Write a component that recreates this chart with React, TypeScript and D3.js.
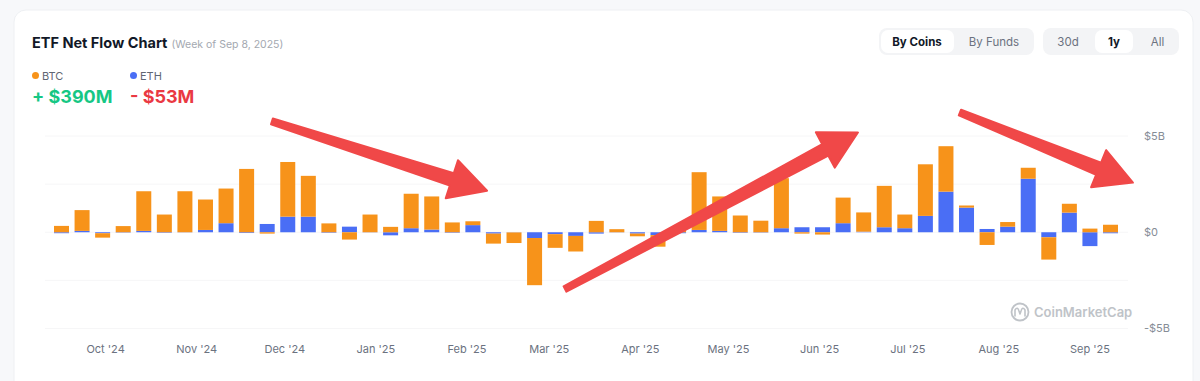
import React, { useEffect } from "react";
import * as d3 from "d3";

// ---- data (USD billions, weekly) ----
const WEEKS = [
  "2024-09-16", "2024-09-23", "2024-09-30", "2024-10-07", "2024-10-14", "2024-10-21", "2024-10-28",
  "2024-11-04", "2024-11-11", "2024-11-18", "2024-11-25", "2024-12-02", "2024-12-09", "2024-12-16",
  "2024-12-23", "2024-12-30", "2025-01-06", "2025-01-13", "2025-01-20", "2025-01-27", "2025-02-03",
  "2025-02-10", "2025-02-17", "2025-02-24", "2025-03-03", "2025-03-10", "2025-03-17", "2025-03-24",
  "2025-03-31", "2025-04-07", "2025-04-14", "2025-04-21", "2025-04-28", "2025-05-05", "2025-05-12",
  "2025-05-19", "2025-05-26", "2025-06-02", "2025-06-09", "2025-06-16", "2025-06-23", "2025-06-30",
  "2025-07-07", "2025-07-14", "2025-07-21", "2025-07-28", "2025-08-04", "2025-08-11", "2025-08-18",
  "2025-08-25", "2025-09-01", "2025-09-08",
];
const BTC_FLOW = [
  0.33, 1.08, -0.23, 0.32, 2.06, 0.92, 2.13, 1.58, 1.8, 3.29, -0.07, 2.84, 2.12,
  0.46, -0.38, 0.92, 0.28, 1.79, 1.72, 0.51, 0.2, -0.52, -0.55, -2.45, -0.71, -0.81,
  0.59, 0.16, -0.14, -0.6, 0.15, 3.0, 1.79, 0.87, 0.6, 2.6, -0.07, -0.12, 1.33,
  1.0, 2.15, 0.71, 2.68, 2.36, 0.11, -0.66, 0.24, 0.57, -1.16, 0.46, 0.19, 0.39,
];
const ETH_FLOW = [
  -0.05, 0.07, -0.05, -0.02, 0.07, -0.03, -0.01, 0.12, 0.47, -0.04, 0.43, 0.81, 0.81,
  -0.03, 0.29, -0.01, -0.16, 0.21, 0.14, -0.03, 0.37, -0.07, -0.01, -0.3, -0.1, -0.19,
  -0.07, -0.01, -0.07, -0.15, -0.05, 0.12, 0.07, -0.03, -0.02, 0.21, 0.26, 0.26, 0.47,
  0.03, 0.26, 0.21, 0.85, 2.11, 1.28, 0.17, 0.29, 2.78, -0.26, 1.02, -0.72, -0.053,
];
const SERIES_KEYS = ["eth", "btc"];
const SERIES_COLORS: Record<string, string> = { btc: "#f7931a", eth: "#4a6ef5" };
const Y_TICKS = [5, 0, -5];
const Y_TICK_LABELS = ["$5B", "$0", "-$5B"];
const GRID_VALUES = [5, 2.5, 0, -2.5, -5];
const LEGEND = [
  { key: "btc", label: "BTC", value: "+ $390M", color: "#16c784" },
  { key: "eth", label: "ETH", value: "- $53M", color: "#ea3943" },
];
// annotation arrows: [week index, value] -> [week index, value]
const ARROWS = [
  { from: [10.23, 5.76], to: [20.69, 2.16] },
  { from: [24.48, -2.95], to: [38.72, 5.18] },
  { from: [43.68, 6.22], to: [52.09, 2.58] },
];

const W = 1200;
const H = 381;
const FONT = "Inter, 'Noto Sans', sans-serif";

export default function App() {
  useEffect(() => {
    document.body.style.margin = "0";
  }, []);

  const parse = d3.timeParse("%Y-%m-%d");
  const dates = WEEKS.map((d) => parse(d) as Date);
  const rows = dates.map((d, i) => ({ date: d, btc: BTC_FLOW[i], eth: ETH_FLOW[i] }));

  const x = d3.scaleTime().domain([dates[0], dates[dates.length - 1]]).range([61.5, 1110.5]);
  const y = d3.scaleLinear().domain([-5, 5]).range([328.5, 136]);
  const barW = 15;

  const stack = d3.stack<any>().keys(SERIES_KEYS).offset(d3.stackOffsetDiverging);
  const layers = stack(rows);

  const months = x.ticks(d3.timeMonth.every(1) as any);
  const fmt = d3.timeFormat("%b '%y");

  const idxToX = (idx: number) => x(new Date(+dates[0] + idx * 7 * 864e5));

  const arrowPath = (a: { from: number[]; to: number[] }) => {
    const x0 = idxToX(a.from[0]), y0 = y(a.from[1]);
    const x1 = idxToX(a.to[0]), y1 = y(a.to[1]);
    const dx = x1 - x0, dy = y1 - y0;
    const len = Math.hypot(dx, dy);
    const ux = dx / len, uy = dy / len;
    const px = -uy, py = ux;
    const headLen = 37, headHalf = 20, tailHalf = 3, neckHalf = 6.5;
    const nx = x1 - ux * headLen, ny = y1 - uy * headLen;
    const pts = [
      [x0 + px * tailHalf, y0 + py * tailHalf],
      [nx + px * neckHalf, ny + py * neckHalf],
      [nx + px * headHalf, ny + py * headHalf],
      [x1, y1],
      [nx - px * headHalf, ny - py * headHalf],
      [nx - px * neckHalf, ny - py * neckHalf],
      [x0 - px * tailHalf, y0 - py * tailHalf],
    ];
    return "M" + pts.map((p) => p.join(",")).join("L") + "Z";
  };

  return (
    <svg width={W} height={H} style={{ display: "block" }} fontFamily={FONT}>
      <rect x={0} y={0} width={W} height={H} fill="#f7f8fa" />
      <rect x={14} y={10} width={1179} height={420} rx={12} fill="#ffffff" stroke="#eef0f3" />

      {/* title */}
      <text x={32} y={47.5} fontSize={14.5} fontWeight={700} fill="#111827">
        ETF Net Flow Chart
        <tspan dx={4} fontSize={10.5} fontWeight={400} fill="#a3a8b0">(Week of Sep 8, 2025)</tspan>
      </text>

      {/* legend */}
      {LEGEND.map((l, i) => (
        <g key={l.key} transform={`translate(${32 + i * 98},0)`}>
          <circle cx={3.5} cy={75.5} r={3.5} fill={SERIES_COLORS[l.key]} />
          <text x={10} y={79.5} fontSize={11} fill="#5f6673">{l.label}</text>
          <text x={0} y={103} fontSize={18} fontWeight={700} fill={l.color}>{l.value}</text>
        </g>
      ))}

      {/* toggle buttons */}
      <rect x={879} y={28} width={155} height={27} rx={8} fill="#f3f4f6" />
      <rect x={881} y={30} width={73} height={23} rx={7} fill="#ffffff" />
      <text x={917} y={46} fontSize={11.5} fontWeight={700} fill="#111827" textAnchor="middle">By Coins</text>
      <text x={994} y={46} fontSize={11.5} fill="#6b7280" textAnchor="middle">By Funds</text>
      <rect x={1043} y={28} width={136} height={27} rx={8} fill="#f3f4f6" />
      <rect x={1095} y={30} width={38} height={23} rx={7} fill="#ffffff" />
      <text x={1068} y={46} fontSize={11.5} fill="#6b7280" textAnchor="middle">30d</text>
      <text x={1114} y={46} fontSize={11.5} fontWeight={700} fill="#111827" textAnchor="middle">1y</text>
      <text x={1157.5} y={46} fontSize={11.5} fill="#6b7280" textAnchor="middle">All</text>

      {/* grid */}
      {GRID_VALUES.map((v) => (
        <line key={v} x1={45} x2={1128} y1={y(v)} y2={y(v)} stroke="#f6f6f7" strokeWidth={1} />
      ))}

      {/* watermark */}
      <g opacity={0.9}>
        <circle cx={1020} cy={312} r={8.5} fill="none" stroke="#b9bdc3" strokeWidth={1.8} />
        <path d="M1015,316 L1015,310 Q1017.5,306 1019,311 L1020,314 L1021,311 Q1022.5,306 1025,310 L1025,316" fill="none" stroke="#b9bdc3" strokeWidth={1.6} strokeLinejoin="round" strokeLinecap="round" />
        <text x={1034} y={316.5} fontSize={13} fontWeight={600} fill="#b9bdc3">CoinMarketCap</text>
      </g>

      {/* bars */}
      {layers.map((layer) => (
        <g key={layer.key} fill={SERIES_COLORS[layer.key]}>
          {layer.map((seg, i) => {
            const y0 = y(seg[1]);
            const y1 = y(seg[0]);
            const h = Math.abs(y1 - y0);
            if (h < 0.01) return null;
            return <rect key={i} x={x(dates[i]) - barW / 2} y={Math.min(y0, y1)} width={barW} height={h} />;
          })}
        </g>
      ))}

      {/* y axis labels */}
      {Y_TICKS.map((v, i) => (
        <text key={v} x={1144} y={y(v)} dy="0.35em" fontSize={11} fill="#868c96">{Y_TICK_LABELS[i]}</text>
      ))}

      {/* x axis labels */}
      {months.map((m) => (
        <text key={+m} x={x(m)} y={353} fontSize={11} fill="#6b7280" textAnchor="middle">{fmt(m)}</text>
      ))}

      {/* annotation arrows */}
      {ARROWS.map((a, i) => (
        <path key={i} d={arrowPath(a)} fill="#f04848" stroke="#f04848" strokeWidth={2} strokeLinejoin="round" />
      ))}
    </svg>
  );
}
